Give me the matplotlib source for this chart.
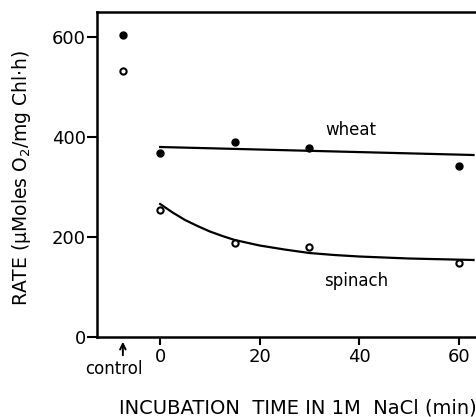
import matplotlib.pyplot as plt

# control points (plotted left of time 0)
control_x = -7.5
wheat_control = 604
spinach_control = 532

# incubation data
times = [0, 15, 30, 60]
wheat = [368, 390, 378, 342]
spinach = [254, 188, 180, 148]

# fitted lines
wheat_fit_x = [0, 63]
wheat_fit_y = [380, 364]
spinach_fit_x = [0, 2.5, 5, 7.5, 10, 12.5, 15, 20, 25, 30, 35, 40, 50, 63]
spinach_fit_y = [266, 249, 234, 222, 211, 202, 194, 183, 175, 168, 164, 161, 157, 154]

plt.rcParams['font.family'] = 'DejaVu Sans'

fig = plt.figure(figsize=(4.76, 4.17), dpi=100)
ax = fig.add_axes([97 / 476, 80 / 417, 1 - 97 / 476, 325 / 417])

ax.plot(wheat_fit_x, wheat_fit_y, color='black', lw=1.6)
ax.plot(spinach_fit_x, spinach_fit_y, color='black', lw=1.6)

ax.plot(times, wheat, 'o', color='black', ms=5)
ax.plot(times, spinach, 'o', mfc='white', mec='black', mew=1.5, ms=4.5)
ax.plot([control_x], [wheat_control], 'o', color='black', ms=5)
ax.plot([control_x], [spinach_control], 'o', mfc='white', mec='black', mew=1.5, ms=4.5)

ax.text(38.3, 414, 'wheat', fontsize=12, ha='center', va='center')
ax.text(39.3, 112, 'spinach', fontsize=12, ha='center', va='center')

ax.set_xlim(-12.7, 63.5)
ax.set_ylim(0, 650)
ax.set_xticks([0, 20, 40, 60])
ax.set_yticks([0, 200, 400, 600])
ax.tick_params(axis='y', direction='out', length=7, width=1.5, pad=1, labelsize=13)
ax.tick_params(axis='x', direction='out', length=6, width=1.5, pad=2, labelsize=13)

for s in ['left', 'bottom', 'top']:
    ax.spines[s].set_linewidth(1.8)
ax.spines['right'].set_visible(False)

# control marker under the axis
ax.annotate('', xy=(control_x, -4), xytext=(control_x, -42),
            arrowprops=dict(arrowstyle='->', color='black', lw=1.4),
            annotation_clip=False)
ax.text(control_x - 1.8, -64, 'control', fontsize=12, ha='center', va='center')

fig.text(119 / 476, 1 - 408 / 417, 'INCUBATION  TIME IN 1M  NaCl (min)',
         fontsize=14, ha='left', va='center')
fig.text(22 / 476, 1 - 178 / 417, 'RATE (\u03bcMoles O$_2$/mg Chl$\\cdot$h)',
         fontsize=13.5, ha='center', va='center', rotation=90)

fig.savefig('out.png', dpi=100)
